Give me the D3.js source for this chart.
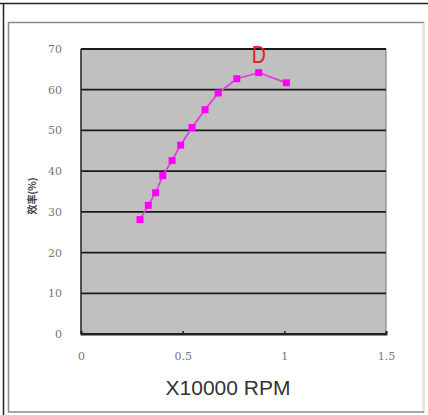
<!DOCTYPE html>
<html><head><meta charset="utf-8">
<script src="https://cdn.jsdelivr.net/npm/d3@7"></script>
<style>body{margin:0;background:#fff;} svg{display:block;}</style>
</head><body>
<script>
const rpm = [0.29, 0.331, 0.367, 0.402, 0.448, 0.49, 0.546, 0.61, 0.675, 0.766, 0.874, 1.01];
const efficiency = [28.1, 31.6, 34.7, 38.9, 42.6, 46.4, 50.7, 55.1, 59.2, 62.7, 64.2, 61.7];
const xTicks = [0, 0.5, 1, 1.5];
const xTickLabels = ["0", "0.5", "1", "1.5"];
const yTicks = [0, 10, 20, 30, 40, 50, 60, 70];
const peakLabel = "D";
const peakIndex = 10;
const xTitle = "X10000 RPM";
const yTitle = "效率(%)";

const W = 428, H = 415;
const svg = d3.select("body").append("svg").attr("width", W).attr("height", H);

// outer frame
svg.append("line").attr("x1", 0).attr("x2", W).attr("y1", 3.5).attr("y2", 3.5).attr("stroke", "#222").attr("stroke-width", 1.5);
svg.append("line").attr("x1", 3.5).attr("x2", 3.5).attr("y1", 3).attr("y2", H).attr("stroke", "#222").attr("stroke-width", 1.5);
// inner chart box
svg.append("rect").attr("x", 8.5).attr("y", 22.5).attr("width", 415).attr("height", 389.5)
  .attr("fill", "#fff").attr("stroke", "#8a8a8a").attr("stroke-width", 1.5);
svg.append("line").attr("x1", 423.5).attr("x2", 423.5).attr("y1", 23).attr("y2", 411)
  .attr("stroke", "#e8e8e8").attr("stroke-width", 2);

const L = 81, R = 386, T = 49, B = 334;
const x = d3.scaleLinear().domain([0, 1.5]).range([L, R]);
const y = d3.scaleLinear().domain([0, 70]).range([B, T]);

svg.append("rect").attr("x", L).attr("y", T).attr("width", R - L).attr("height", B - T)
  .attr("fill", "#c0c0c0").attr("stroke", "#777").attr("stroke-width", 1);

// gridlines
svg.append("g").selectAll("line").data(yTicks).join("line")
  .attr("x1", L).attr("x2", R).attr("y1", d => y(d)).attr("y2", d => y(d))
  .attr("stroke", "#1a1a1a").attr("stroke-width", 1.8);
svg.append("line").attr("x1", L).attr("x2", L).attr("y1", T).attr("y2", B).attr("stroke", "#333").attr("stroke-width", 1.5);

// axes with D3
const xAxis = d3.axisBottom(x).tickValues(xTicks).tickFormat((d, i) => xTickLabels[i]).tickSize(-3).tickPadding(26);
const gx = svg.append("g").attr("transform", `translate(0,${B})`).call(xAxis);
gx.select(".domain").attr("stroke", "#222").attr("stroke-width", 1.8);
gx.selectAll(".tick line").attr("stroke", "#222").attr("stroke-width", 1.5);
gx.selectAll(".tick text").attr("fill", "#777").attr("font-family", "DejaVu Serif, serif").attr("font-size", 11).attr("dy", "0");

const yAxis = d3.axisLeft(y).tickValues(yTicks).tickSize(0).tickPadding(19);
const gy = svg.append("g").attr("transform", `translate(${L},0)`).call(yAxis);
gy.select(".domain").remove();
gy.selectAll(".tick text").attr("fill", "#777").attr("font-family", "DejaVu Serif, serif").attr("font-size", 11);

// line + markers
const pts = rpm.map((r, i) => [r, efficiency[i]]);
svg.append("path").datum(pts)
  .attr("d", d3.line().x(d => x(d[0])).y(d => y(d[1])))
  .attr("fill", "none").attr("stroke", "#e040e0").attr("stroke-width", 1.8);
svg.append("g").selectAll("rect").data(pts).join("rect")
  .attr("x", d => x(d[0]) - 3.5).attr("y", d => y(d[1]) - 3.5)
  .attr("width", 7).attr("height", 7).attr("fill", "#ff00ff");

// peak label (straddles the top gridline, as in the reference)
const px = x(rpm[peakIndex]);
svg.append("text").attr("x", px).attr("y", y(efficiency[peakIndex]) - 9.5)
  .attr("text-anchor", "middle").attr("font-family", "Liberation Sans, Arial, sans-serif")
  .attr("font-size", 23).attr("fill", "#dd2222")
  .attr("transform", `translate(${px},0) scale(0.85,1) translate(${-px},0)`)
  .text(peakLabel);

// titles
svg.append("text").attr("x", 228).attr("y", 395).attr("text-anchor", "middle")
  .attr("font-family", "Liberation Sans, Arial, sans-serif").attr("font-size", 21).attr("fill", "#333").text(xTitle);
svg.append("text").attr("transform", "translate(36,196) rotate(-90)").attr("text-anchor", "middle")
  .attr("font-family", "Noto Sans CJK SC, sans-serif").attr("font-size", 10).attr("font-weight", "bold").attr("fill", "#444").text(yTitle);
</script>
</body></html>
